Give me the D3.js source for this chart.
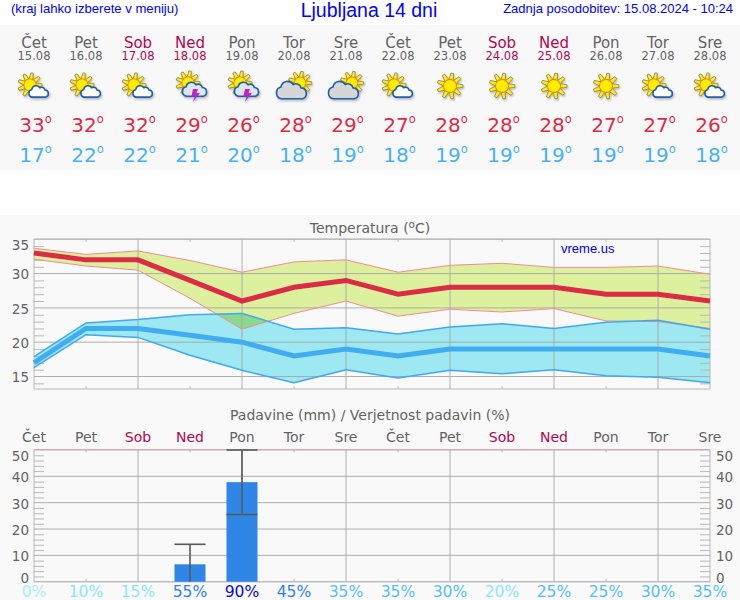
<!DOCTYPE html>
<html>
<head>
<meta charset="utf-8">
<script src="https://cdn.jsdelivr.net/npm/d3@7"></script>
<style>
  html, body { margin: 0; padding: 0; background: #fff; }
  svg { display: block; }
  text { font-family: "DejaVu Sans", sans-serif; }
  .arial { font-family: "Liberation Sans", Arial, sans-serif; fill: #0000ff; }
</style>
</head>
<body>
<div id="chart"></div>
<script>
const days = ['Čet', 'Pet', 'Sob', 'Ned', 'Pon', 'Tor', 'Sre', 'Čet', 'Pet', 'Sob', 'Ned', 'Pon', 'Tor', 'Sre'];
const dates = ['15.08', '16.08', '17.08', '18.08', '19.08', '20.08', '21.08', '22.08', '23.08', '24.08', '25.08', '26.08', '27.08', '28.08'];
const icons = ['partly', 'partly', 'partly', 'storm', 'storm', 'cloudy', 'cloudy', 'partly', 'sun', 'sun', 'sun', 'sun', 'partly', 'partly'];

const tempMax = [33, 32, 32, 29, 26, 28, 29, 27, 28, 28, 28, 27, 27, 26];
const tempMaxHigh = [33.7, 32.8, 33.3, 31.9, 30.2, 31.7, 32.0, 30.2, 31.2, 31.5, 30.9, 30.9, 31.1, 29.9];
const tempMaxLow = [32.1, 31.1, 30.5, 26.4, 21.9, 24.2, 26.0, 23.8, 24.8, 24.4, 24.9, 23.1, 23.0, 22.0];
const tempMin = [17, 22, 22, 21, 20, 18, 19, 18, 19, 19, 19, 19, 19, 18];
const tempMinHigh = [17.9, 22.8, 23.3, 24.0, 24.2, 21.9, 22.1, 21.2, 22.2, 22.7, 22.0, 22.9, 23.2, 21.9];
const tempMinLow = [16.3, 21.1, 20.7, 18.1, 15.9, 14.1, 16.0, 14.8, 15.9, 15.4, 16.0, 15.1, 14.9, 14.1];

const rain = [0, 0, 0, 6.6, 37.8, 0, 0, 0, 0, 0, 0, 0, 0, 0];
const rainHigh = [0, 0, 0, 14.2, 50, 0, 0, 0, 0, 0, 0, 0, 0, 0];
const rainLow = [0, 0, 0, 0, 25.5, 0, 0, 0, 0, 0, 0, 0, 0, 0];
const rainProb = [0, 10, 15, 55, 90, 45, 35, 35, 30, 20, 25, 25, 30, 35];

const tempTicks = [15, 20, 25, 30, 35];
const rainTicks = [0, 10, 20, 30, 40, 50];

const GREY = '#636363';
const WEEKEND = '#b0084f';
const dayColor = d => (d === 'Sob' || d === 'Ned') ? WEEKEND : GREY;
const probColor = d3.scaleThreshold()
  .domain([5, 25, 45, 70])
  .range(['#a8eefa', '#8ce6fa', '#55c0fa', '#3283e6', '#0a0ad2']);

const svg = d3.select('#chart').append('svg').attr('width', 740).attr('height', 600);

// pozadje
svg.append('rect').attr('x', 0).attr('y', 25).attr('width', 740).attr('height', 145).attr('fill', '#f8f8f8');
svg.append('rect').attr('x', 0).attr('y', 215).attr('width', 740).attr('height', 385).attr('fill', '#f9f9f9');

// skupna x os
const x = d3.scaleLinear().domain([0, days.length - 1]).range([34, 710]);
const idx = days.map((d, i) => i);
const evens = idx.filter(i => i % 2 === 0 && i > 0);
const odds = idx.filter(i => i % 2 === 1 && i < days.length - 1);

// naslovi
svg.append('text').attr('class', 'arial').attr('x', 11).attr('y', 13).style('font-size', '13.1px').text('(kraj lahko izberete v meniju)');
svg.append('text').attr('class', 'arial').attr('x', 369).attr('y', 17).attr('text-anchor', 'middle').style('font-size', '19.5px').text('Ljubljana 14 dni');
svg.append('text').attr('class', 'arial').attr('x', 733).attr('y', 13).attr('text-anchor', 'end').style('font-size', '13px').text('Zadnja posodobitev: 15.08.2024 - 10:24');

// zgornji del: dnevi
const cards = svg.append('g').selectAll('g').data(idx).enter().append('g')
  .attr('transform', i => `translate(${x(i)},0)`);
cards.append('text').attr('y', 48).attr('text-anchor', 'middle')
  .attr('fill', i => dayColor(days[i])).style('font-size', '15px').text(i => days[i]);
cards.append('text').attr('y', 60).attr('text-anchor', 'middle')
  .attr('fill', i => dayColor(days[i])).style('font-size', '11.5px').text(i => dates[i]);

function degreeText(sel, values, color, y) {
  const t = sel.append('text').attr('x', 1.5).attr('y', y).attr('text-anchor', 'middle').attr('fill', color);
  t.append('tspan').style('font-size', '20px').text(i => values[i]);
  t.append('tspan').attr('dy', -9).attr('dx', 0).style('font-size', '11.5px').text('o');
}
degreeText(cards, tempMax, '#dc2b45', 132);
degreeText(cards, tempMin, '#47b1f2', 162);

// ikone
const defs = svg.append('defs');
const shadow = defs.append('filter').attr('id', 'icon-shadow').attr('x', '-30%').attr('y', '-30%').attr('width', '170%').attr('height', '170%');
shadow.append('feDropShadow').attr('dx', 1).attr('dy', 1.5).attr('stdDeviation', 0.9)
  .attr('flood-color', '#888').attr('flood-opacity', 0.6);

const CLOUD = 'M-8,6 A4.6,4.6 0 0 1 -8.5,-3 A5.2,5.2 0 0 1 1,-5 A4,4 0 0 1 7,-2.4 A4.3,4.3 0 0 1 8,6 Z';

function drawSun(g, cx, cy, r) {
  const s = g.append('g').attr('transform', `translate(${cx},${cy})`);
  d3.range(9).forEach(k => {
    s.append('path')
      .attr('d', `M${-r * 0.32},${-r * 0.9} L${-r * 0.2},${-r * 1.95} L${r * 0.2},${-r * 1.95} L${r * 0.32},${-r * 0.9} Z`)
      .attr('transform', `rotate(${k * 40 + 10})`)
      .attr('fill', '#ffee22').attr('stroke', '#8a7a20').attr('stroke-width', 0.7).attr('stroke-linejoin', 'round');
  });
  s.append('circle').attr('r', r).attr('fill', '#ffee00').attr('stroke', '#f08a10').attr('stroke-width', 1.1);
}
function drawCloud(g, cx, cy, k, fill) {
  g.append('path').attr('d', CLOUD)
    .attr('transform', `translate(${cx},${cy}) scale(${k})`)
    .attr('fill', fill).attr('stroke', '#1b5fae').attr('stroke-width', 1.6 / k);
}
const iconGroup = cards.append('g').attr('transform', 'translate(0,85)').attr('filter', 'url(#icon-shadow)');
iconGroup.each(function (i) {
  const g = d3.select(this);
  if (icons[i] === 'sun') {
    drawSun(g, 0, 1, 6.6);
  } else if (icons[i] === 'partly') {
    drawSun(g, -4, 0, 6.2);
    drawCloud(g, 5, 7, 0.85, '#ffffff');
  } else if (icons[i] === 'storm') {
    drawSun(g, -2, -2, 6.2);
    drawCloud(g, 5, 5, 1.05, '#dfe6ea');
    g.append('path').attr('d', 'M3,4 L8,4 L6.5,8 L10,8 L2.5,17.5 L5,11 L1.5,11 Z').attr('fill', '#c020c8');
  } else {
    drawSun(g, 6, -2, 6);
    drawCloud(g, -2, 6, 1.3, '#d6d6d6');
  }
});

// --- temperatura ---
const yT = d3.scaleLinear().domain([13.18, 35.04]).range([389, 239]);

svg.append('text').attr('x', 370).attr('y', 233).attr('text-anchor', 'middle').attr('fill', GREY)
  .style('font-size', '14px')
  .call(t => {
    t.append('tspan').text('Temperatura (');
    t.append('tspan').attr('dy', -5).style('font-size', '10.5px').text('o');
    t.append('tspan').attr('dy', 5).text('C)');
  });

const areaOf = (hi, lo) => d3.area().x(i => x(i)).y0(i => yT(lo[i])).y1(i => yT(hi[i]))(idx);
const lineOf = vals => d3.line().x(i => x(i)).y(i => yT(vals[i]))(idx);

const clipId = 'warm-band';
defs.append('clipPath').attr('id', clipId).append('path').attr('d', areaOf(tempMaxHigh, tempMaxLow));

svg.append('path').attr('d', areaOf(tempMaxHigh, tempMaxLow)).attr('fill', '#dcf09e');
svg.append('path').attr('d', areaOf(tempMinHigh, tempMinLow)).attr('fill', '#9de8f1');
svg.append('path').attr('d', areaOf(tempMinHigh, tempMinLow)).attr('fill', '#8ad98f').attr('clip-path', `url(#${clipId})`);

function styleAxis(g, color) {
  g.select('.domain').remove();
  g.selectAll('.tick line').attr('stroke', color);
  g.selectAll('.tick text').attr('fill', GREY).style('font-size', '13.5px').style('font-family', '"DejaVu Sans", sans-serif');
}

function drawFrame(yScale, ticks, minorTicks, top, bottom, rightLabels, topColor) {
  const left = x.range()[0];
  const right = x.range()[1];

  // drobne oznake levo in desno
  svg.append('g').attr('transform', `translate(${left},0)`)
    .call(d3.axisRight(yScale).tickValues(minorTicks).tickSize(10).tickFormat(''))
    .call(styleAxis, '#b8b8b8');
  svg.append('g').attr('transform', `translate(${right},0)`)
    .call(d3.axisLeft(yScale).tickValues(minorTicks).tickSize(10).tickFormat(''))
    .call(styleAxis, '#b8b8b8');

  // mreža
  svg.append('g').selectAll('line').data(ticks).enter().append('line')
    .attr('x1', left).attr('x2', right)
    .attr('y1', d => yScale(d)).attr('y2', d => yScale(d))
    .attr('stroke', '#a6a6a6').attr('stroke-opacity', 0.9);
  svg.append('g').selectAll('line').data(evens).enter().append('line')
    .attr('x1', d => x(d)).attr('x2', d => x(d))
    .attr('y1', top).attr('y2', bottom)
    .attr('stroke', '#a6a6a6').attr('stroke-opacity', 0.9);

  // kratke oznake zgoraj in spodaj
  svg.append('g').selectAll('line').data(odds).enter().append('line')
    .attr('x1', d => x(d)).attr('x2', d => x(d))
    .attr('y1', top).attr('y2', top + 3).attr('stroke', topColor);
  svg.append('g').selectAll('line').data(odds).enter().append('line')
    .attr('x1', d => x(d)).attr('x2', d => x(d))
    .attr('y1', bottom - 3).attr('y2', bottom).attr('stroke', '#b8b8b8');

  // okvir
  svg.append('path').attr('d', `M${left},${top} V${bottom} H${right} V${top}`).attr('fill', 'none').attr('stroke', '#b8b8b8');
  svg.append('line').attr('x1', left).attr('x2', right).attr('y1', top).attr('y2', top).attr('stroke', topColor);

  // številke
  const shift = d => {
    if (yScale(d) - top < 6) return 6;
    if (bottom - yScale(d) < 6) return -4;
    return 1;
  };
  const labels = g => g.selectAll('.tick text').attr('dy', d => `${0.32 + shift(d) / 13.5}em`);
  svg.append('g').attr('transform', `translate(${left},0)`)
    .call(d3.axisLeft(yScale).tickValues(ticks).tickSize(0).tickPadding(5))
    .call(styleAxis, 'none').call(labels);
  if (rightLabels) {
    svg.append('g').attr('transform', `translate(${right},0)`)
      .call(d3.axisRight(yScale).tickValues(ticks).tickSize(0).tickPadding(6))
      .call(styleAxis, 'none').call(labels);
  }
}

drawFrame(yT, tempTicks, d3.range(14, 36).filter(d => d % 5 !== 0), 239, 389, false, '#b8b8b8');

svg.append('path').attr('d', lineOf(tempMaxHigh)).attr('fill', 'none').attr('stroke', '#ee8f8f').attr('stroke-width', 1);
svg.append('path').attr('d', lineOf(tempMaxLow)).attr('fill', 'none').attr('stroke', '#ee8f8f').attr('stroke-width', 1);
svg.append('path').attr('d', lineOf(tempMinHigh)).attr('fill', 'none').attr('stroke', '#3fa9f0').attr('stroke-width', 1.5);
svg.append('path').attr('d', lineOf(tempMinLow)).attr('fill', 'none').attr('stroke', '#3fa9f0').attr('stroke-width', 1.5);
svg.append('path').attr('d', lineOf(tempMax)).attr('fill', 'none').attr('stroke', '#dc2b45').attr('stroke-width', 5);
svg.append('path').attr('d', lineOf(tempMin)).attr('fill', 'none').attr('stroke', '#3fadf0').attr('stroke-width', 5);

svg.append('text').attr('class', 'arial').attr('x', 561).attr('y', 253).style('font-size', '13px').text('vreme.us');

// --- padavine ---
const yR = d3.scaleLinear().domain([0, 50]).range([581.7, 450]);

svg.append('text').attr('x', 370).attr('y', 420).attr('text-anchor', 'middle').attr('fill', GREY)
  .style('font-size', '14px').text('Padavine (mm) / Verjetnost padavin (%)');

svg.append('g').selectAll('text').data(idx).enter().append('text')
  .attr('x', i => x(i)).attr('y', 442).attr('text-anchor', 'middle')
  .attr('fill', i => dayColor(days[i])).style('font-size', '14px').text(i => days[i]);

drawFrame(yR, rainTicks, d3.range(2, 50, 2).filter(d => d % 10 !== 0), 449.5, 581.7, true, '#e2a2c0');

const BAR_W = 31;
const wet = idx.filter(i => rain[i] > 0);
svg.append('g').selectAll('rect').data(wet).enter().append('rect')
  .attr('x', i => x(i) - BAR_W / 2).attr('width', BAR_W)
  .attr('y', i => yR(rain[i])).attr('height', i => yR(0) - yR(rain[i]))
  .attr('fill', '#2f86e6');
const errs = svg.append('g').attr('stroke', '#595959').attr('stroke-width', 1.6).selectAll('g').data(wet).enter().append('g');
errs.append('line').attr('x1', i => x(i)).attr('x2', i => x(i)).attr('y1', i => yR(rainHigh[i])).attr('y2', i => yR(rainLow[i]));
errs.append('line').attr('x1', i => x(i) - BAR_W / 2).attr('x2', i => x(i) + BAR_W / 2).attr('y1', i => yR(rainHigh[i])).attr('y2', i => yR(rainHigh[i]));
errs.filter(i => rainLow[i] > 0).append('line').attr('x1', i => x(i) - BAR_W / 2).attr('x2', i => x(i) + BAR_W / 2).attr('y1', i => yR(rainLow[i])).attr('y2', i => yR(rainLow[i]));

svg.append('g').selectAll('text').data(idx).enter().append('text')
  .attr('x', i => x(i)).attr('y', 597).attr('text-anchor', 'middle')
  .attr('fill', i => probColor(rainProb[i])).style('font-size', '15.6px').text(i => rainProb[i] + '%');
</script>
</body>
</html>
